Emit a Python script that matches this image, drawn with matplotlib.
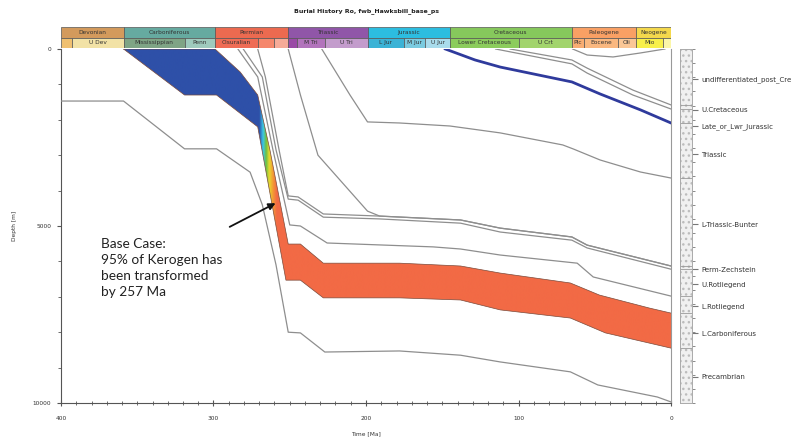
import matplotlib.pyplot as plt
import numpy as np
from matplotlib.patches import Polygon, Rectangle
from matplotlib.colors import LinearSegmentedColormap, Normalize
from matplotlib.ticker import MultipleLocator

# --- geological time scale (Ma) ---
periods = ["Devonian", "Carboniferous", "Permian", "Triassic", "Jurassic",
           "Cretaceous", "Paleogene", "Neogene"]
period_start = [400, 359, 299, 251, 199, 145, 65, 23]
period_end = [359, 299, 251, 199, 145, 65, 23, 0]
period_colors = ["#d39a5c", "#66aaa0", "#ec6a50", "#9056a8", "#2cbde0",
                 "#86c85c", "#f9a064", "#f4d84c"]

epochs = ["", "U Dev", "Mississippian", "Penn", "Cisuralian", "", "", "",
          "M Tri", "U Tri", "L Jur", "M Jur", "U Jur", "Lower Cretaceous",
          "U Crt", "Plc", "Eocene", "Oli", "Mio", ""]
epoch_start = [400, 393, 359, 319, 299, 271, 260, 251, 245, 227, 199, 175,
               161, 145, 100, 65, 57, 35, 23, 5]
epoch_end = [393, 359, 319, 299, 271, 260, 251, 245, 227, 199, 175, 161,
             145, 100, 65, 57, 35, 23, 5, 0]
epoch_colors = ["#f0c070", "#f2e2a6", "#7fa485", "#9fcabd", "#ef6c55",
                "#f5876c", "#f6ab98", "#9a4aa6", "#b274bc", "#c39ccc",
                "#3bb3d6", "#7acbe0", "#a9dcec", "#8ccc5c", "#a2d46c",
                "#f9ad72", "#fab880", "#fbc796", "#f8f04a", "#fbf6a8"]

# --- burial history horizons (age Ma, depth m) ---
basement_ma = [400, 359, 319, 298, 276, 268, 259, 251, 243, 227, 178, 138, 112, 66, 48, 9, 0]
basement_d = [1470, 1470, 2820, 2820, 3480, 4400, 6100, 8000, 8020, 8560, 8530, 8650, 8840, 9120, 9490, 9830, 9970]

carb_base_ma = [359, 319, 298, 271, 252.5, 243, 228, 178, 138, 112, 66, 43, 14, 0]
carb_base_d = [0, 1300, 1300, 2200, 6530, 6530, 7030, 7030, 7090, 7370, 7600, 8020, 8310, 8450]

carb_top_ma = [359, 299, 282.5, 271, 263, 251, 243, 228, 178, 138, 112, 66, 47, 14, 0]
carb_top_d = [0, 0, 650, 1300, 2850, 5510, 5510, 6050, 6050, 6130, 6330, 6610, 6950, 7320, 7460]

lrot_top_ma = [284, 271, 261, 250, 243, 225.5, 156, 138, 112, 61.5, 51, 0]
lrot_top_d = [0, 790, 2850, 4970, 5000, 5480, 5590, 5650, 5820, 6050, 6440, 6980]

urot_top_ma = [280.5, 268, 259, 251, 244.5, 228, 191, 138, 112, 65, 55, 0]
urot_top_d = [0, 790, 2850, 4240, 4270, 4750, 4800, 4920, 5170, 5400, 5620, 6220]

zech_top_ma = [271, 266, 257, 251, 244.5, 228, 191, 138, 112, 65, 55, 0]
zech_top_d = [0, 790, 2850, 4150, 4180, 4660, 4720, 4830, 5060, 5310, 5540, 6130]

bunter_ma = [251, 243, 231.5, 199, 191, 138, 112, 65, 55, 0]
bunter_d = [0, 1300, 3000, 4580, 4720, 4830, 5060, 5310, 5540, 6130]

trias_top_ma = [229, 210.5, 199, 178, 145, 112, 71, 64, 46.5, 20, 0]
trias_top_d = [0, 1300, 2060, 2090, 2175, 2370, 2710, 2825, 3135, 3475, 3645]

jur_ma = [148, 128.5, 112, 65, 46.5, 20, 0]
jur_d = [0, 310, 510, 930, 1270, 1720, 2090]

lcret_top_ma = [115, 65, 55, 25, 0]
lcret_top_d = [0, 420, 680, 1300, 1695]

ucret_top_ma = [105.5, 65, 55, 25, 0]
ucret_top_d = [0, 310, 540, 1160, 1580]

post_cre_ma = [64.5, 55, 38, 20.5, 4]
post_cre_d = [0, 170, 225, 115, 0]

# transformation ratio colouring of the source rock (by age)
tr_ma = [258.5, 261, 263.5, 265.5, 267.5, 270]
tr_colors = ["#f26a45", "#f39a35", "#e6d830", "#6cc040", "#3cc8e8", "#2e50a8"]

# right-hand stratigraphic column
strat_names = ["undifferentiated_post_Cre", "U.Cretaceous", "Late_or_Lwr_Jurassic",
               "Triassic", "L-Triassic-Bunter", "Perm-Zechstein", "U.Rotliegend",
               "L.Rotliegend", "L.Carboniferous", "Precambrian"]
strat_depth = [850, 1720, 2175, 2970, 4945, 6215, 6640, 7260, 8025, 9265]

W, H = 800, 441
fig = plt.figure(figsize=(W / 100, H / 100), dpi=100)
fig.patch.set_facecolor("white")

ax = fig.add_axes([61 / W, 1 - 403 / H, 610 / W, 354 / H])
ax_ts = fig.add_axes([61 / W, 1 - 48 / H, 610 / W, 21 / H])
ax_col = fig.add_axes([680 / W, 1 - 403 / H, 12 / W, 354 / H])

small = 4.2
txt_col = "#333333"

# time scale bars
ax_ts.barh(1.5, np.array(period_start) - np.array(period_end), left=period_end, height=1,
           color=period_colors, edgecolor="#555555", linewidth=0.5)
ax_ts.barh(0.5, np.array(epoch_start) - np.array(epoch_end), left=epoch_end, height=1,
           color=epoch_colors, edgecolor="#555555", linewidth=0.5)
for name, s, e in zip(periods, period_start, period_end):
    ax_ts.text((s + e) / 2, 1.5, name, ha="center", va="center", fontsize=small, color=txt_col)
for name, s, e in zip(epochs, epoch_start, epoch_end):
    ax_ts.text((s + e) / 2, 0.5, name, ha="center", va="center", fontsize=small, color=txt_col)
ax_ts.set_xlim(400, 0)
ax_ts.set_ylim(0, 2)
ax_ts.axis("off")

# source rock layer filled by transformation ratio
verts = list(zip(carb_top_ma, carb_top_d)) + list(zip(carb_base_ma, carb_base_d))[::-1]
poly = Polygon(verts, closed=True, facecolor="none", edgecolor="none")
ax.add_patch(poly)
norm = Normalize(vmin=tr_ma[0], vmax=tr_ma[-1], clip=True)
tr_cmap = LinearSegmentedColormap.from_list("tr", list(zip(norm(tr_ma), tr_colors)))
ages = np.linspace(400, 0, 1600).reshape(1, -1)
im = ax.imshow(ages, cmap=tr_cmap, norm=norm, extent=(400, 0, 10000, 0),
               aspect="auto", interpolation="bilinear", zorder=2)
im.set_clip_path(poly)
ax.plot(carb_top_ma, carb_top_d, color="#7a4a3a", lw=0.5, zorder=3)
ax.plot(carb_base_ma, carb_base_d, color="#7a4a3a", lw=0.5, zorder=3)

# grey horizons
grey = "#8e8e8e"
for ma, d in [(basement_ma, basement_d), (lrot_top_ma, lrot_top_d),
              (urot_top_ma, urot_top_d), (zech_top_ma, zech_top_d),
              (bunter_ma, bunter_d), (trias_top_ma, trias_top_d),
              (lcret_top_ma, lcret_top_d), (ucret_top_ma, ucret_top_d),
              (post_cre_ma, post_cre_d)]:
    ax.plot(ma, d, color=grey, lw=0.9, zorder=4)
ax.plot(jur_ma, jur_d, color="#2f3a9c", lw=2.0, zorder=5)

# annotation
ax.annotate("", xy=(257.7, 4320), xytext=(291, 5060),
            arrowprops=dict(arrowstyle="-|>", color="#111111", lw=1.3, mutation_scale=10),
            zorder=6)
ax.text(373.8, 5330, "Base Case:\n95% of Kerogen has\nbeen transformed\nby 257 Ma",
        ha="left", va="top", fontsize=9.8, family="Lato", color="#222222", linespacing=1.42)

ax.set_xlim(400, 0)
ax.set_ylim(10000, 0)
ax.set_xticks([400, 300, 200, 100, 0])
ax.xaxis.set_minor_locator(MultipleLocator(10))
ax.set_yticks([0, 5000, 10000])
ax.yaxis.set_minor_locator(MultipleLocator(1000))
ax.tick_params(axis="x", which="major", direction="inout", length=5, pad=7,
               labelsize=small, labelcolor=txt_col, color="#555555")
ax.tick_params(axis="x", which="minor", direction="inout", length=3, color="#555555")
ax.tick_params(axis="y", which="major", direction="out", length=3, pad=4,
               labelsize=small, labelcolor=txt_col, color="#555555")
ax.tick_params(axis="y", which="minor", direction="out", length=2, color="#555555")
ax.set_xlabel("Time [Ma]", fontsize=small, color=txt_col, labelpad=7)
ax.set_ylabel("Depth [m]", fontsize=small, color=txt_col, labelpad=11)
ax.spines["top"].set_visible(False)
for s in ["left", "bottom"]:
    ax.spines[s].set_color("#555555")
    ax.spines[s].set_linewidth(0.8)
ax.spines["right"].set_color("#999999")

# stratigraphic column
ax_col.add_patch(Rectangle((0, 0), 1, 10000, facecolor="#f0f0f0", edgecolor="#bcbcbc",
                           hatch="...", lw=0))
for d in [ucret_top_d, lcret_top_d, jur_d, trias_top_d, zech_top_d, urot_top_d,
          lrot_top_d, carb_top_d, carb_base_d]:
    ax_col.axhline(d[-1], color="#9a9a9a", lw=0.6)
ax_col.set_xlim(0, 1)
ax_col.set_ylim(10000, 0)
ax_col.set_xticks([])
ax_col.yaxis.tick_right()
ax_col.set_yticks(strat_depth)
ax_col.set_yticklabels(strat_names)
ax_col.yaxis.set_minor_locator(MultipleLocator(400))
ax_col.tick_params(axis="y", which="major", length=4, pad=2.5, labelsize=5.0,
                   labelcolor=txt_col, color="#777777")
ax_col.tick_params(axis="y", which="minor", length=2.5, color="#777777")
for s in ax_col.spines.values():
    s.set_color("#aaaaaa")
    s.set_linewidth(0.7)

fig.text(366 / W, 1 - 11 / H, "Burial History Ro, fwb_Hawksbill_base_ps", ha="center",
         va="center", fontsize=4.5, weight="bold", color="#222222")

fig.savefig("out.png", dpi=100)
